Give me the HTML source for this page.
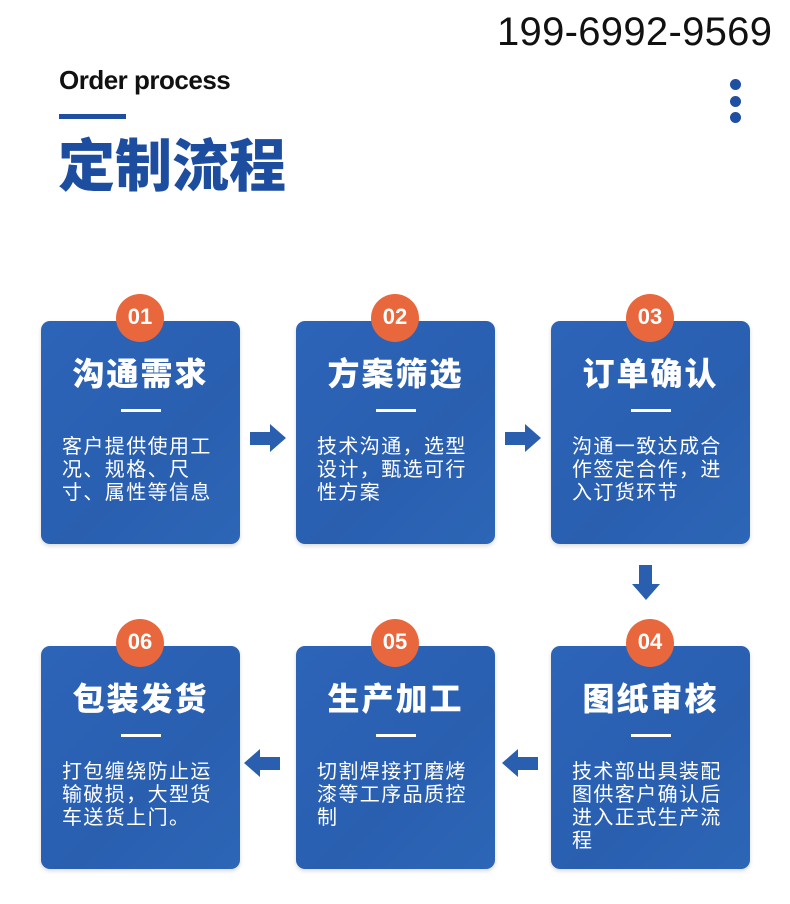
<!DOCTYPE html>
<html><head><meta charset="utf-8"><style>
body{margin:0;width:790px;height:904px;background:#fff;position:relative;overflow:hidden;font-family:"Liberation Sans","Noto Sans CJK SC",sans-serif}
.a{position:absolute}
.box{position:absolute;width:199px;height:223px;border-radius:9px;background:linear-gradient(135deg,#2c64b8,#2a5fb0 60%,#2d66b6);box-shadow:0 2px 4px rgba(0,0,0,.15)}
.num{position:absolute;width:48px;height:48px;border-radius:50%;background:#e9673c;color:#fff;font-weight:bold;font-size:22px;text-align:center;line-height:46px;left:75px;top:-27px;font-family:"Liberation Sans",sans-serif}
.t{position:absolute;left:0;right:0;top:28px;text-align:center;color:#fff;font-weight:900;font-size:32px;letter-spacing:2px;font-family:"Noto Sans CJK SC",sans-serif}
.ln{position:absolute;left:80px;width:40px;height:3px;top:88px;background:#fff}
.d{position:absolute;left:21px;top:112px;width:165px;color:#fff;font-size:20px;line-height:23px;letter-spacing:1.4px;font-family:"Noto Sans CJK SC",sans-serif}
</style></head><body>
<div class="a" style="left:497px;top:10px;font-size:40px;color:#111;letter-spacing:0.3px">199-6992-9569</div>
<div class="a" style="left:59px;top:65px;font-size:26px;font-weight:bold;color:#111;letter-spacing:-0.5px">Order process</div>
<div class="a" style="left:59px;top:114px;width:67px;height:5px;background:#1f4fa0"></div>
<div class="a" style="left:58px;top:124px;font-size:57px;font-weight:900;color:#1c4d9f;font-family:'Noto Sans CJK SC',sans-serif;line-height:76px">定制流程</div>
<div class="a" style="left:730px;top:79px;width:11px;height:11px;border-radius:50%;background:#1f4fa0"></div>
<div class="a" style="left:730px;top:96px;width:11px;height:11px;border-radius:50%;background:#1f4fa0"></div>
<div class="a" style="left:730px;top:112px;width:11px;height:11px;border-radius:50%;background:#1f4fa0"></div>

<div class="box" style="left:41px;top:321px"><div class="num">01</div><div class="t">沟通需求</div><div class="ln"></div><div class="d">客户提供使用工况、规格、尺寸、属性等信息</div></div>
<div class="box" style="left:296px;top:321px"><div class="num">02</div><div class="t">方案筛选</div><div class="ln"></div><div class="d">技术沟通，选型设计，甄选可行性方案</div></div>
<div class="box" style="left:551px;top:321px"><div class="num">03</div><div class="t">订单确认</div><div class="ln"></div><div class="d">沟通一致达成合作签定合作，进入订货环节</div></div>
<div class="box" style="left:41px;top:646px"><div class="num">06</div><div class="t">包装发货</div><div class="ln"></div><div class="d">打包缠绕防止运输破损，大型货车送货上门。</div></div>
<div class="box" style="left:296px;top:646px"><div class="num">05</div><div class="t">生产加工</div><div class="ln"></div><div class="d">切割焊接打磨烤漆等工序品质控制</div></div>
<div class="box" style="left:551px;top:646px"><div class="num">04</div><div class="t">图纸审核</div><div class="ln"></div><div class="d">技术部出具装配图供客户确认后进入正式生产流程</div></div>

<svg class="a" style="left:0;top:0" width="790" height="904">
<g fill="#2a5fb0">
<polygon points="250,432 270,432 270,424 286,438 270,452 270,445 250,445"/>
<polygon points="505,432 525,432 525,424 541,438 525,452 525,445 505,445"/>
<polygon points="639,565 652,565 652,584 660,584 646,600 632,584 639,584"/>
<polygon points="280,757 260,757 260,749 244,763 260,777 260,770 280,770"/>
<polygon points="538,757 518,757 518,749 502,763 518,777 518,770 538,770"/>
</g></svg>
</body></html>
